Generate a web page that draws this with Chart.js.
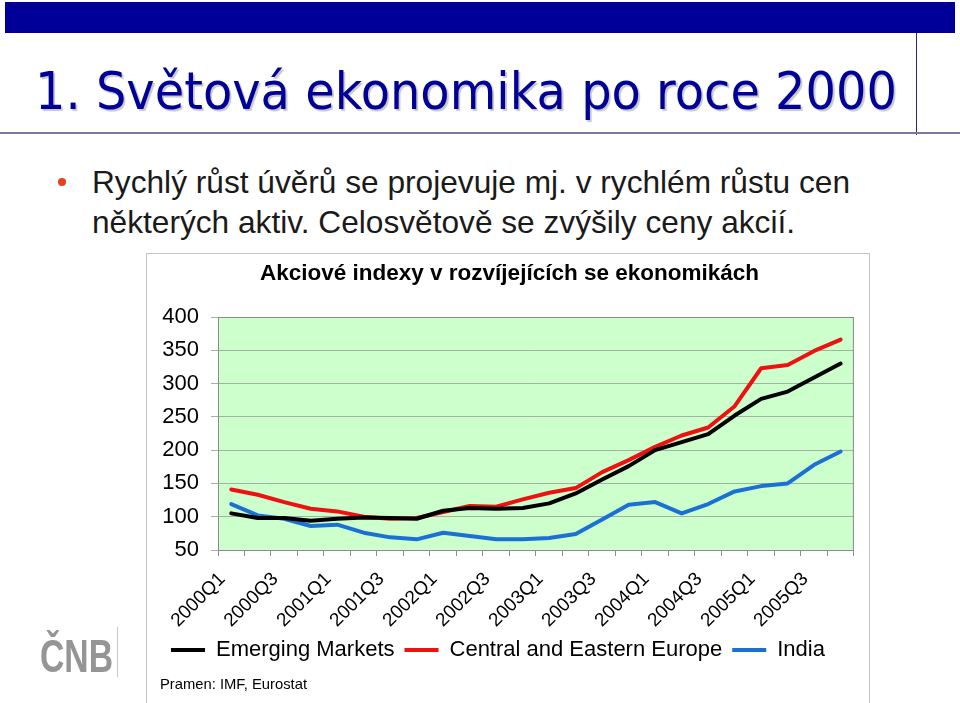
<!DOCTYPE html>
<html>
<head>
<meta charset="utf-8">
<script src="https://cdn.jsdelivr.net/npm/chart.js@4/dist/chart.umd.min.js"></script>
<style>
  html, body { margin: 0; padding: 0; background: #fff; }
  body { width: 960px; height: 703px; position: relative; overflow: hidden; font-family: "Liberation Sans", Arial, sans-serif; }
  .abs { position: absolute; white-space: nowrap; }
  .fit { display: inline-block; transform-origin: 0 0; }
  #topbar { left: 5px; top: 2px; width: 950px; height: 31px; background: #000099; }
  #vline { left: 916px; top: 33px; width: 1px; height: 102px; background: #2a2a7a; }
  #hline { left: 0; top: 132px; width: 960px; height: 2px; background: #7a7aa0; }
  #title { left: 35px; top: 65px; font-family: "DejaVu Sans", Verdana, sans-serif; font-size: 52px; line-height: 52px; color: #000099; text-shadow: 2px 2px 1px rgba(0,0,0,0.22); }
  #dot { left: 58px; top: 178px; width: 8px; height: 8px; border-radius: 50%; background: #e8401c; }
  .bullet { left: 92px; font-size: 32px; line-height: 32px; color: #1a1a1a; }
  #box { left: 146px; top: 253px; width: 722px; height: 470px; border: 1px solid #c4c4c4; }
  #chartWrap { left: 147px; top: 254px; width: 722px; height: 449px; }
  #source { left: 160px; top: 676px; font-size: 15px; line-height: 15px; color: #000; }
  #logo { left: 40px; top: 632px; font-size: 47px; line-height: 47px; font-weight: bold; color: #959595; }
  #logoLine { left: 117px; top: 627px; width: 1px; height: 50px; background: #c8c8c8; }
</style>
</head>
<body>
<div class="abs" id="topbar"></div>
<div class="abs" id="vline"></div>
<div class="abs" id="hline"></div>
<div class="abs" id="title"><span class="fit" data-w="862">1. Světová ekonomika po roce 2000</span></div>
<div class="abs" id="dot"></div>
<div class="abs bullet" style="top:166px"><span class="fit" data-w="758">Rychlý růst úvěrů se projevuje mj. v rychlém růstu cen</span></div>
<div class="abs bullet" style="top:206px"><span class="fit" data-w="703">některých aktiv. Celosvětově se zvýšily ceny akcií.</span></div>
<div class="abs" id="box"></div>
<div class="abs" id="chartWrap"><canvas id="chart"></canvas></div>
<div class="abs" id="source"><span class="fit" data-w="147">Pramen: IMF, Eurostat</span></div>
<div class="abs" id="logo"><span class="fit" data-w="73">ČNB</span></div>
<div class="abs" id="logoLine"></div>

<script>
// quarterly values, 2000Q1 = ~100
const quarters = ['2000Q1', '2000Q2', '2000Q3', '2000Q4', '2001Q1', '2001Q2', '2001Q3', '2001Q4',
                  '2002Q1', '2002Q2', '2002Q3', '2002Q4', '2003Q1', '2003Q2', '2003Q3', '2003Q4',
                  '2004Q1', '2004Q2', '2004Q3', '2004Q4', '2005Q1', '2005Q2', '2005Q3', '2005Q4'];
const emergingMarkets = [105, 98, 98, 94, 97, 99, 98, 97, 109, 113, 112, 113, 120, 135, 156, 176, 200, 212, 224, 252, 277, 288, 309, 330];
const centralEastEurope = [141, 133, 122, 112, 108, 100, 97, 98, 107, 116, 115, 126, 136, 143, 167, 185, 205, 222, 234, 266, 323, 328, 349, 366];
const india = [119, 102, 97, 86, 88, 76, 69, 66, 76, 71, 66, 66, 68, 74, 96, 118, 122, 105, 119, 138, 146, 150, 178, 198];
const yTicks = [50, 100, 150, 200, 250, 300, 350, 400];

document.querySelectorAll('.fit').forEach(el => {
    const w = el.getBoundingClientRect().width;
    el.style.transform = 'scaleX(' + (parseFloat(el.dataset.w) / w) + ')';
});

Chart.defaults.font.family = '"Liberation Sans", Arial, sans-serif';
Chart.defaults.color = '#000';

const plotBg = {
    id: 'plotBg',
    beforeDraw(chart) {
        const a = chart.chartArea, ctx = chart.ctx;
        ctx.save();
        ctx.fillStyle = '#ccffcc';
        ctx.fillRect(a.left, a.top, a.right - a.left, a.bottom - a.top);
        ctx.restore();
    },
    beforeDatasetsDraw(chart) {
        const a = chart.chartArea, ctx = chart.ctx;
        ctx.save();
        ctx.strokeStyle = '#8c8c8c';
        ctx.lineWidth = 1;
        ctx.strokeRect(a.left + 0.5, a.top + 0.5, a.right - a.left - 1, a.bottom - a.top);
        ctx.restore();
    }
};

const PLOT_BOTTOM = 296;
const PAD_BOTTOM = 32;

function series(label, data, color) {
    return {
        label: label,
        data: data,
        borderColor: color,
        backgroundColor: color,
        pointBorderColor: color,
        pointBorderWidth: 4
    };
}

new Chart(document.getElementById('chart'), {
    type: 'line',
    data: {
        labels: quarters,
        datasets: [
            series('Emerging Markets', emergingMarkets, '#000000'),
            series('Central and Eastern Europe', centralEastEurope, '#ee1111'),
            series('India', india, '#1c70d4')
        ]
    },
    options: {
        responsive: true,
        maintainAspectRatio: false,
        animation: false,
        layout: { padding: { left: 14, right: 11, top: 0, bottom: PAD_BOTTOM } },
        elements: {
            line: { borderWidth: 4, tension: 0, borderJoinStyle: 'round', borderCapStyle: 'round' },
            point: { radius: 0 }
        },
        plugins: {
            title: {
                display: true,
                text: 'Akciové indexy v rozvíjejících se ekonomikách',
                font: { size: 22.5, weight: 'bold' },
                color: '#000',
                padding: { top: 6, bottom: 30 }
            },
            legend: {
                position: 'bottom',
                align: 'start',
                labels: {
                    usePointStyle: true,
                    pointStyle: 'line',
                    pointStyleWidth: 34,
                    font: { size: 22 },
                    padding: 10,
                    color: '#000'
                }
            },
            tooltip: { enabled: false }
        },
        scales: {
            x: {
                offset: true,
                grid: { display: true, offset: true, drawOnChartArea: false, drawTicks: true, tickLength: 6, color: '#8c8c8c' },
                border: { display: false },
                ticks: {
                    autoSkip: false,
                    maxRotation: 45,
                    minRotation: 45,
                    padding: 12,
                    labelOffset: -9,
                    font: { size: 19 },
                    callback: (v, i) => (i % 2 === 0 ? quarters[i] : '')
                },
                afterFit(scale) {
                    const c = scale.chart;
                    scale.height = c.height - PAD_BOTTOM - c.legend.height - PLOT_BOTTOM;
                }
            },
            y: {
                min: 50,
                max: 400,
                afterBuildTicks(scale) {
                    scale.ticks = yTicks.map(v => ({ value: v }));
                },
                grid: { color: '#a3b3a3', lineWidth: 1, drawTicks: true, tickLength: 7 },
                border: { display: false },
                ticks: { font: { size: 22 }, padding: 12 },
                afterFit(scale) { scale.width = 57; }
            }
        }
    },
    plugins: [plotBg]
});
</script>
</body>
</html>
